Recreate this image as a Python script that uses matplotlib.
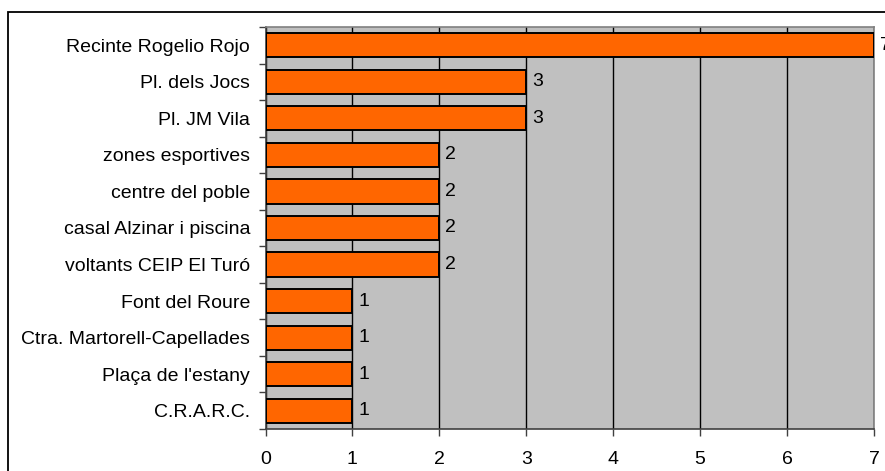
import numpy as np
import matplotlib.pyplot as plt
from matplotlib.patches import Rectangle

plt.rcParams['font.family'] = ['Liberation Sans', 'DejaVu Sans']

# Dades (de dalt a baix)
llocs = ['Recinte Rogelio Rojo', 'Pl. dels Jocs', 'Pl. JM Vila', 'zones esportives',
         'centre del poble', 'casal Alzinar i piscina', 'voltants CEIP El Turó',
         'Font del Roure', 'Ctra. Martorell-Capellades', "Plaça de l'estany", 'C.R.A.R.C.']
valors = [7, 3, 3, 2, 2, 2, 2, 1, 1, 1, 1]

W, H = 885, 471
fig = plt.figure(figsize=(W / 100, H / 100), dpi=100)

# Marc exterior del gràfic
fig.patches.append(Rectangle((8 / W, -0.1), 1.1, 1 - 12 / H + 0.1, transform=fig.transFigure,
                             fill=False, edgecolor='black', linewidth=1.3))

ax = fig.add_axes([265.5 / W, (H - 429) / H, (874 - 265.5) / W, (429 - 27) / H])
ax.set_facecolor('#C0C0C0')

n = len(llocs)
y = np.arange(n)[::-1]
ax.barh(y, valors, height=0.66, color='#FF6600', edgecolor='black', linewidth=1.4, zorder=3)

for yi, v in zip(y, valors):
    ax.text(v + 0.07, yi, str(v), va='center', ha='left', fontsize=14, zorder=4, clip_on=False)

ax.set_xlim(0, 7)
ax.set_ylim(-0.5, n - 0.5)
ax.set_xticks(range(8))
ax.set_yticks(y)
ax.set_yticklabels(llocs)
ax.set_yticks(np.arange(-0.5, n, 1), minor=True)
ax.tick_params(axis='y', which='major', length=0, pad=11, labelsize=14)
ax.tick_params(axis='y', which='minor', length=5, width=1, color='#404040', direction='out')
ax.tick_params(axis='x', length=5, width=1, color='#404040', direction='out', pad=11, labelsize=14)

ax.grid(axis='x', color='black', linewidth=1, zorder=1)
ax.set_axisbelow(True)

for s in ['left', 'bottom']:
    ax.spines[s].set_color('#404040')
    ax.spines[s].set_linewidth(1.2)
for s in ['top', 'right']:
    ax.spines[s].set_color('#808080')
    ax.spines[s].set_linewidth(1.2)

plt.savefig('out.png', dpi=100)
